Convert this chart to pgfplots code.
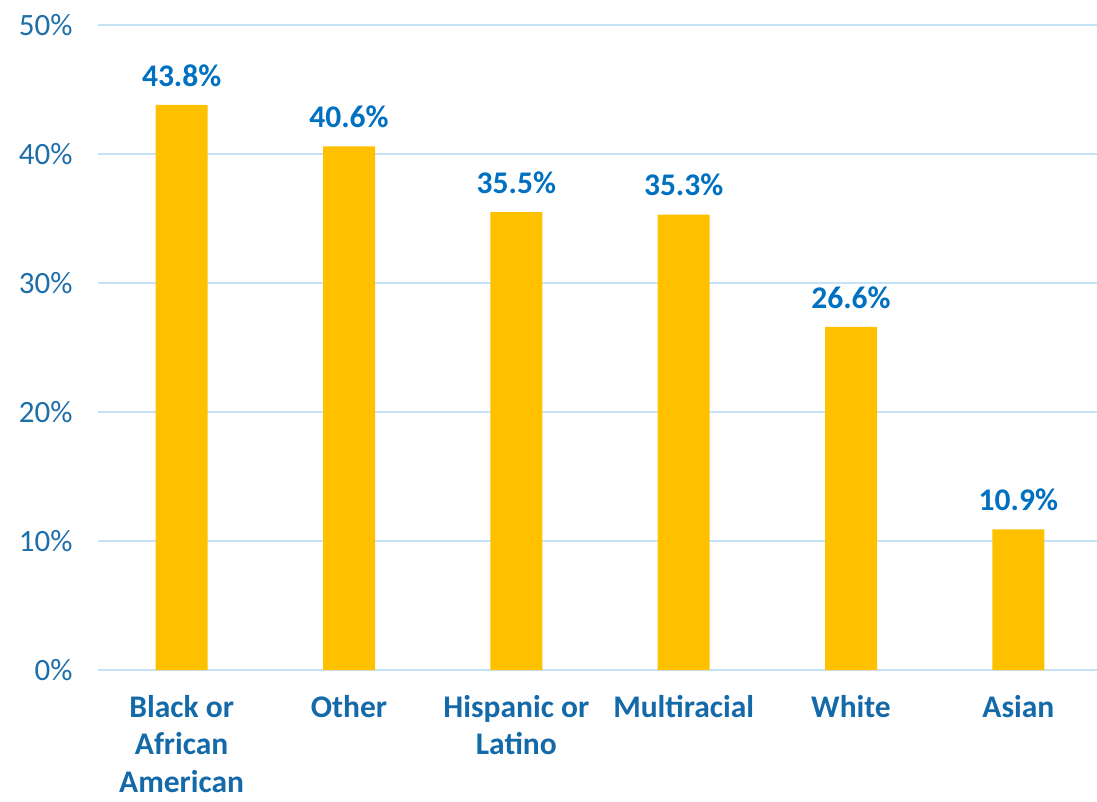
\documentclass[border=0pt]{standalone}
\usepackage{pgfplots}
\pgfplotsset{compat=1.18}
\usepackage{fontspec}
\setmainfont{Carlito}
\definecolor{barcol}{RGB}{255,192,0}
\definecolor{gridcol}{RGB}{197,227,246}
\definecolor{tickcol}{RGB}{30,110,170}
\definecolor{catcol}{RGB}{20,105,168}
\definecolor{labcol}{RGB}{0,112,192}
\begin{document}
\begin{tikzpicture}
\begin{axis}[
  at={(0,0)}, anchor=south west,
  scale only axis,
  width=999pt, height=645pt,
  xmin=-0.5, xmax=5.47,
  ymin=0, ymax=50,
  ytick={0,10,20,30,40,50},
  yticklabels={0\%,10\%,20\%,30\%,40\%,50\%},
  xtick={0,1,2,3,4,5},
  xticklabels={{Black or\\African\\American},{Other},{Hispanic or\\Latino},{Multiracial},{White},{Asian}},
  axis line style={draw=none},
  tick style={draw=none},
  ymajorgrids,
  grid style={color=gridcol, line width=1.5pt},
  yticklabel style={font=\fontsize{31}{36}\selectfont, text=tickcol, anchor=east, xshift=-22pt},
  xticklabel style={font=\bfseries\fontsize{31.5}{37.5}\selectfont, text=catcol, align=center, anchor=north, yshift=-24pt, inner sep=1pt},
  clip=false,
]
\addplot[ybar, bar width=52pt, fill=barcol, draw=none,
  nodes near coords={\pgfmathprintnumber[fixed,precision=1,fixed zerofill,assume math mode=true]{\pgfplotspointmeta}\%},
  every node near coord/.style={font=\bfseries\fontsize{31.5}{36}\selectfont, text=labcol, anchor=south, yshift=15pt},
] coordinates {(0,43.8) (1,40.6) (2,35.5) (3,35.3) (4,26.6) (5,10.9)};
\end{axis}
\pgfresetboundingbox
\path[use as bounding box] (-98pt,-131pt) rectangle (999pt,670pt);
\end{tikzpicture}
\end{document}
